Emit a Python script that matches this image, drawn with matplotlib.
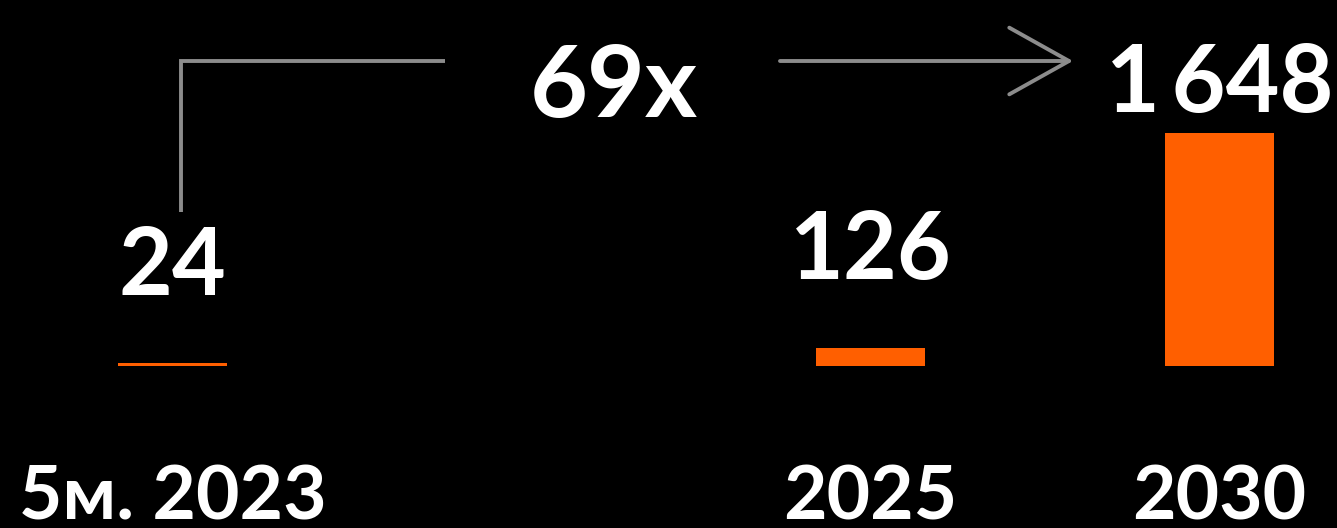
import numpy as np
import matplotlib.pyplot as plt
from matplotlib.patches import FancyArrowPatch, ArrowStyle
from matplotlib.transforms import blended_transform_factory

# data
categories = ["5м. 2023", "2025", "2030"]
values = [24, 126, 1648]
growth_label = "69x"

# layout: 2024 slot left empty
slots = [0, 2, 3]
label_offsets = [49, 50, 15]  # points above bar top

ORANGE = "#ff5f00"
GREY = "#8c8c8c"
FONT = ["Lato", "DejaVu Sans"]
WEIGHT = "bold"

W, H = 1337, 528
fig = plt.figure(figsize=(W / 100, H / 100), dpi=100, facecolor="black")
ax = fig.add_axes([0, 0, 1, 1], facecolor="black")

# pixel geometry of the reference
x0_px, slot_px = 172.5, 349.0
base_px, bar_px = 366.0, 233.0
units_per_px = max(values) / bar_px

ax.set_xlim(-x0_px / slot_px, (W - x0_px) / slot_px)
ax.set_ylim(-(H - base_px) * units_per_px, base_px * units_per_px)
ax.axis("off")

ax.bar(slots, values, width=0.312, color=ORANGE)

for s, v, off in zip(slots, values, label_offsets):
    ax.annotate(f"{v:,}".replace(",", "\u2009"), (s, v), xytext=(0, off),
                textcoords="offset points", ha="center", va="baseline",
                color="white", fontsize=67, fontweight=WEIGHT, family=FONT)

trans = blended_transform_factory(ax.transData, fig.transFigure)
for s, c in zip(slots, categories):
    ax.text(s, 9 / H, c, transform=trans, ha="center", va="baseline",
            color="white", fontsize=54, fontweight=WEIGHT, family=FONT)

# connector from first bar to the last value
fx = lambda px: px / W
fy = lambda py: 1 - py / H
ax.plot([fx(181), fx(181), fx(445)], [fy(212), fy(61), fy(61)],
        transform=ax.transAxes, color=GREY, lw=2.8,
        solid_joinstyle="miter", solid_capstyle="butt")
arrow = FancyArrowPatch((fx(780), fy(61)), (fx(1073), fy(61)),
                        transform=ax.transAxes, color=GREY, lw=2.8,
                        arrowstyle=ArrowStyle("->", head_length=43, head_width=24),
                        mutation_scale=1, shrinkA=0, shrinkB=0)
ax.add_patch(arrow)
ax.text(fx(614), fy(117), growth_label, transform=ax.transAxes,
        ha="center", va="baseline", color="white", fontsize=72,
        fontweight=WEIGHT, family=FONT)

fig.savefig("out.png", dpi=100, facecolor="black")
